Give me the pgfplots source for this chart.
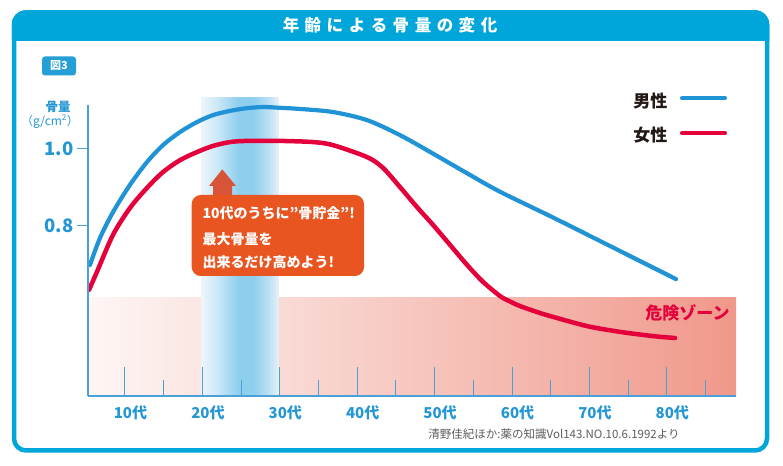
\documentclass[border=0pt]{standalone}
\usepackage{fontspec}
\setmainfont{Noto Sans CJK JP}
\usepackage{pgfplots}
\pgfplotsset{compat=1.18}
\definecolor{frameblue}{RGB}{0,166,218}
\definecolor{badgeblue}{RGB}{38,158,214}
\definecolor{axblue}{RGB}{75,160,215}
\definecolor{lblblue}{RGB}{35,150,212}
\definecolor{maleblue}{RGB}{32,146,214}
\definecolor{femred}{RGB}{228,0,58}
\definecolor{calloutorg}{RGB}{233,85,32}
\definecolor{arroworg}{RGB}{216,84,56}
\definecolor{zoneL}{RGB}{253,246,245}
\definecolor{zoneR}{RGB}{240,152,138}
\definecolor{txtdark}{RGB}{35,24,21}
\definecolor{srcgray}{RGB}{95,92,92}
\pgfdeclarehorizontalshading{bandshade}{100bp}{%
  rgb(0bp)=(0.93,0.96,0.985);
  rgb(25bp)=(0.93,0.96,0.985);
  rgb(35bp)=(0.80,0.91,0.97);
  rgb(49bp)=(0.56,0.81,0.935);
  rgb(59bp)=(0.56,0.81,0.935);
  rgb(69bp)=(0.74,0.88,0.96);
  rgb(75bp)=(0.90,0.94,0.97);
  rgb(100bp)=(0.90,0.94,0.97)}
\begin{document}
\begin{tikzpicture}[x=1pt,y=1pt]
\fill[white] (0,0) rectangle (783,465);
% frame
\draw[frameblue, line width=4.5pt, rounded corners=12pt] (14,14.5) rectangle (767,452.5);
\fill[frameblue] (11.75,424) [rounded corners=14pt] -- (11.75,454.75) -- (769.25,454.75) [sharp corners] -- (769.25,424) -- cycle;
\node[text=white, font=\bfseries\fontsize{16.5}{16.5}\selectfont] at (390,440)
  {年\hspace{5.5pt}齢\hspace{5.5pt}に\hspace{5.5pt}よ\hspace{5.5pt}る\hspace{5.5pt}骨\hspace{5.5pt}量\hspace{5.5pt}の\hspace{5.5pt}変\hspace{5.5pt}化};
\node[fill=badgeblue, rounded corners=3pt, text=white, font=\bfseries\fontsize{11}{11}\selectfont, minimum width=34pt, minimum height=19pt, inner sep=0pt] at (59,399) {図3};

\begin{axis}[
  at={(88pt,69pt)}, anchor=south west,
  scale only axis, width=648pt, height=291pt,
  xmin=5.22, xmax=88.94, ymin=0.3584, ymax=1.1143,
  axis lines=left, axis line style={-, axblue, line width=1.1pt},
  clip=false, axis on top, no markers,
  tick align=inside, major tick length=29pt, minor tick length=16pt,
  tick style={axblue, line width=1pt},
  xtick={10,20,30,40,50,60,70,80}, minor xtick={15,25,35,45,55,65,75,85},
  xticklabels={10代,20代,30代,40代,50代,60代,70代,80代},
  xticklabel style={anchor=center, yshift=-17pt, xshift=5.5pt, text=lblblue, font=\bfseries\fontsize{15}{15}\selectfont},
  ytick=\empty,
  extra y ticks={0.8,1.0}, extra y tick labels={0.8,1.0},
  extra y tick style={tick align=outside, major tick length=11pt,
     tick label style={anchor=center, xshift=-18pt, text=lblblue, font=\bfseries\fontsize{18.5}{18.5}\selectfont}},
]
% danger zone
\addplot[draw=none, left color=zoneL, right color=zoneR] coordinates {(5.22,0.3584) (5.22,0.613) (88.94,0.613) (88.94,0.3584)};
% highlight band
\addplot[draw=none, shade, shading=bandshade] coordinates {(19.9,0.3584) (19.9,1.133) (29.8,1.133) (29.8,0.3584)};
% male
\addplot[maleblue, line width=4.2pt, smooth, line cap=round] coordinates {
(5.48,0.699) (6.77,0.769) (8.45,0.836) (10.65,0.907) (12.84,0.966) (14.91,1.010) (17.11,1.044) (19.30,1.070) (21.37,1.088) (23.57,1.099) (25.76,1.106) (27.83,1.109) (30.03,1.107) (32.61,1.104) (36.87,1.096) (41.27,1.075) (45.53,1.036) (49.79,0.988) (54.19,0.937) (58.45,0.889) (65.30,0.822) (73.95,0.735) (81.19,0.662)};
% female
\addplot[femred, line width=4.5pt, smooth, line cap=round] coordinates {
(5.35,0.634) (6.38,0.681) (8.45,0.777) (10.65,0.847) (12.84,0.899) (14.91,0.940) (17.11,0.971) (19.30,0.992) (21.37,1.008) (23.57,1.018) (25.76,1.021) (30.03,1.021) (34.29,1.018) (36.87,1.010) (41.27,0.979) (43.33,0.951) (45.53,0.901) (47.73,0.849) (49.79,0.803) (51.99,0.751) (54.19,0.699) (56.25,0.655) (58.45,0.618) (59.74,0.604) (61.03,0.592) (63.62,0.574) (65.30,0.564) (69.69,0.540) (73.95,0.525) (78.22,0.514) (81.06,0.509)};
\end{axis}

% y label
\node[text=lblblue, font=\bfseries\fontsize{12.5}{12.5}\selectfont] at (58,358.3) {骨量};
\node[text=lblblue, font=\fontsize{12}{12}\selectfont] at (50,343.3) {（g/cm\textsuperscript{2}）};
% legend
\node[anchor=east, text=txtdark, font=\bfseries\fontsize{17}{17}\selectfont] at (671,364.3) {男性};
\draw[maleblue, line width=4pt, line cap=round] (682,366.7) -- (725,366.7);
\node[anchor=east, text=txtdark, font=\bfseries\fontsize{17}{17}\selectfont] at (671,330) {女性};
\draw[femred, line width=4pt, line cap=round] (682,331.7) -- (725,331.7);
% callout
\fill[arroworg] (213,269) -- (213,279) -- (209,279) -- (222.3,295.7) -- (236,279) -- (232,279) -- (232,269) -- cycle;
\fill[calloutorg, rounded corners=9pt] (191.7,189) rectangle (364,270);
\node[anchor=west, text=white, font=\bfseries\fontsize{14}{14}\selectfont] at (199,252) {10代のうちに"骨貯金"!};
\node[anchor=west, text=white, font=\bfseries\fontsize{14}{14}\selectfont] at (199,226) {最大骨量を};
\node[anchor=west, text=white, font=\bfseries\fontsize{14}{14}\selectfont] at (199,203) {出来るだけ高めよう!};
% danger label
\node[text=femred, font=\bfseries\fontsize{17}{17}\selectfont] at (687.5,151.7) {危険ゾーン};
% source
\node[text=srcgray, font=\fontsize{11.5}{11.5}\selectfont] at (554,31) {清野佳紀ほか:薬の知識Vol143.NO.10.6.1992より};
\end{tikzpicture}
\end{document}
